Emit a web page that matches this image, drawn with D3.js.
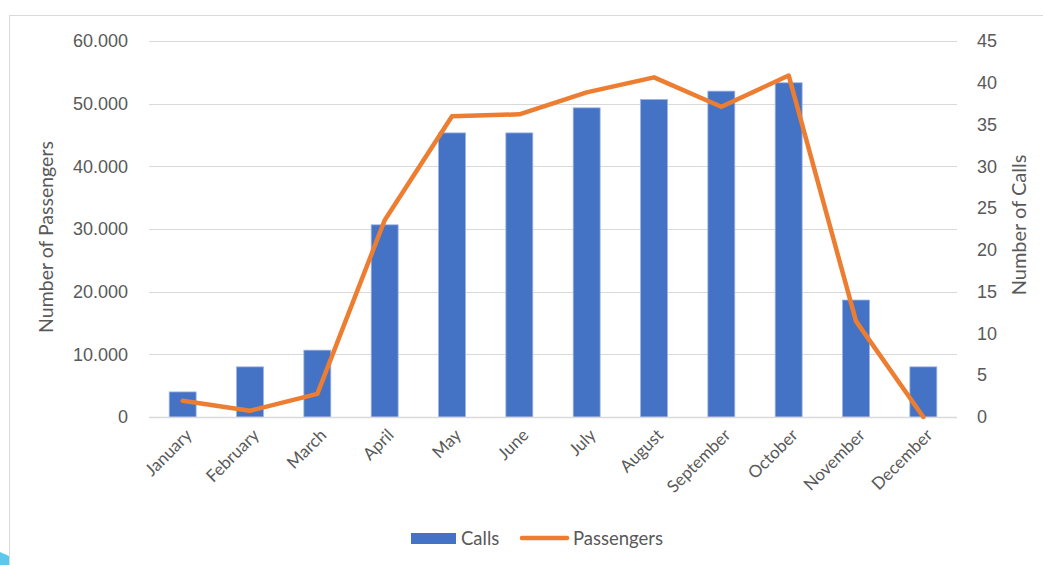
<!DOCTYPE html>
<html>
<head>
<meta charset="utf-8">
<script src="https://cdn.jsdelivr.net/npm/d3@7"></script>
<style>
  body { margin: 0; background: #fff; }
  svg { display: block; font-family: Lato, "Open Sans", sans-serif; }
</style>
</head>
<body>
<div id="chart"></div>
<script>
// data
const months = ["January", "February", "March", "April", "May", "June", "July",
    "August", "September", "October", "November", "December"];
const calls = [3, 6, 8, 23, 34, 34, 37, 38, 39, 40, 14, 6];
const passengers = [2600, 1000, 3700, 31400, 48000, 48300, 51800, 54200, 49500, 54500, 15300, 0];
const leftTicks = [0, 10000, 20000, 30000, 40000, 50000, 60000];
const rightTicks = [0, 5, 10, 15, 20, 25, 30, 35, 40, 45];

const width = 1043, height = 565;
const plot = { left: 149, right: 957, top: 41, bottom: 417 };
const textColor = "#595959";
const barColor = "#4472C4";
const lineColor = "#ED7D31";

const svg = d3.select("#chart").append("svg")
    .attr("width", width)
    .attr("height", height);

// outer chart border (cropped)
svg.append("rect")
    .attr("x", 9.5).attr("y", 15.5)
    .attr("width", 1100).attr("height", 600)
    .attr("fill", "none")
    .attr("stroke", "#d9d9d9");

// scales
const x = d3.scaleBand().domain(months).range([plot.left, plot.right]).padding(0);
const yLeft = d3.scaleLinear().domain([0, 60000]).range([plot.bottom, plot.top]);
const yRight = d3.scaleLinear().domain([0, 45]).range([plot.bottom, plot.top]);

const fmt = d => d === 0 ? "0" : d3.format(",")(d).replace(/,/g, ".");

// grid lines
svg.append("g")
    .selectAll("line")
    .data(leftTicks)
    .join("line")
    .attr("x1", plot.left).attr("x2", plot.right)
    .attr("y1", d => Math.round(yLeft(d)) + 0.5)
    .attr("y2", d => Math.round(yLeft(d)) + 0.5)
    .attr("stroke", "#d9d9d9")
    .attr("stroke-width", 1);

// left axis
const leftAxis = svg.append("g")
    .attr("transform", `translate(${plot.left}, 0)`)
    .call(d3.axisLeft(yLeft).tickValues(leftTicks).tickFormat(fmt).tickSize(0).tickPadding(21));
leftAxis.select(".domain").remove();
leftAxis.selectAll("text")
    .style("font-size", "18px")
    .style("fill", textColor);

// right axis
const rightAxis = svg.append("g")
    .attr("transform", `translate(${plot.right}, 0)`)
    .call(d3.axisRight(yRight).tickValues(rightTicks).tickSize(0).tickPadding(20));
rightAxis.select(".domain").remove();
rightAxis.selectAll("text")
    .style("font-size", "18px")
    .style("fill", textColor);

// axis titles
svg.append("text")
    .attr("transform", "translate(53, 237) rotate(-90)")
    .attr("text-anchor", "middle")
    .style("font-size", "19.5px")
    .style("fill", textColor)
    .text("Number of Passengers");

svg.append("text")
    .attr("transform", "translate(1026, 225) rotate(-90)")
    .attr("text-anchor", "middle")
    .style("font-size", "20px")
    .style("fill", textColor)
    .text("Number of Calls");

// bars (calls)
const barW = x.bandwidth() * 0.4;
svg.append("g")
    .selectAll("rect")
    .data(calls)
    .join("rect")
    .attr("x", (d, i) => x(months[i]) + (x.bandwidth() - barW) / 2)
    .attr("y", d => yRight(d))
    .attr("width", barW)
    .attr("height", d => plot.bottom - yRight(d))
    .attr("fill", barColor)
    .attr("stroke", "#9db3e0")
    .attr("stroke-width", 0.8);

// category axis line
svg.append("line")
    .attr("x1", plot.left).attr("x2", plot.right)
    .attr("y1", plot.bottom + 0.5).attr("y2", plot.bottom + 0.5)
    .attr("stroke", "#d9d9d9")
    .attr("stroke-width", 1.5);

// line (passengers)
const line = d3.line()
    .x((d, i) => x(months[i]) + x.bandwidth() / 2)
    .y(d => yLeft(d));

svg.append("path")
    .datum(passengers)
    .attr("d", line)
    .attr("fill", "none")
    .attr("stroke", lineColor)
    .attr("stroke-width", 4.5)
    .attr("stroke-linejoin", "round")
    .attr("stroke-linecap", "round");

// month labels
svg.append("g")
    .selectAll("text")
    .data(months)
    .join("text")
    .attr("transform", d => `translate(${x(d) + x.bandwidth() / 2 + 6}, 432) rotate(-45)`)
    .attr("text-anchor", "end")
    .attr("dy", "0.35em")
    .style("font-size", "17px")
    .style("fill", textColor)
    .text(d => d);

// legend
const legend = svg.append("g");
legend.append("rect")
    .attr("x", 411).attr("y", 533)
    .attr("width", 45).attr("height", 11)
    .attr("fill", barColor);
legend.append("text")
    .attr("x", 461).attr("y", 545)
    .style("font-size", "18.5px")
    .style("fill", textColor)
    .text("Calls");
legend.append("line")
    .attr("x1", 522).attr("x2", 567)
    .attr("y1", 538).attr("y2", 538)
    .attr("stroke", lineColor)
    .attr("stroke-width", 4.5)
    .attr("stroke-linecap", "round");
legend.append("text")
    .attr("x", 573).attr("y", 545)
    .style("font-size", "18.5px")
    .style("fill", textColor)
    .text("Passengers");

// small cyan corner fragment seen at the bottom-left edge
svg.append("path")
    .attr("d", "M0,552 L9,556 L9,565 L0,565 Z")
    .attr("fill", "#5bc8ec");
</script>
</body>
</html>
